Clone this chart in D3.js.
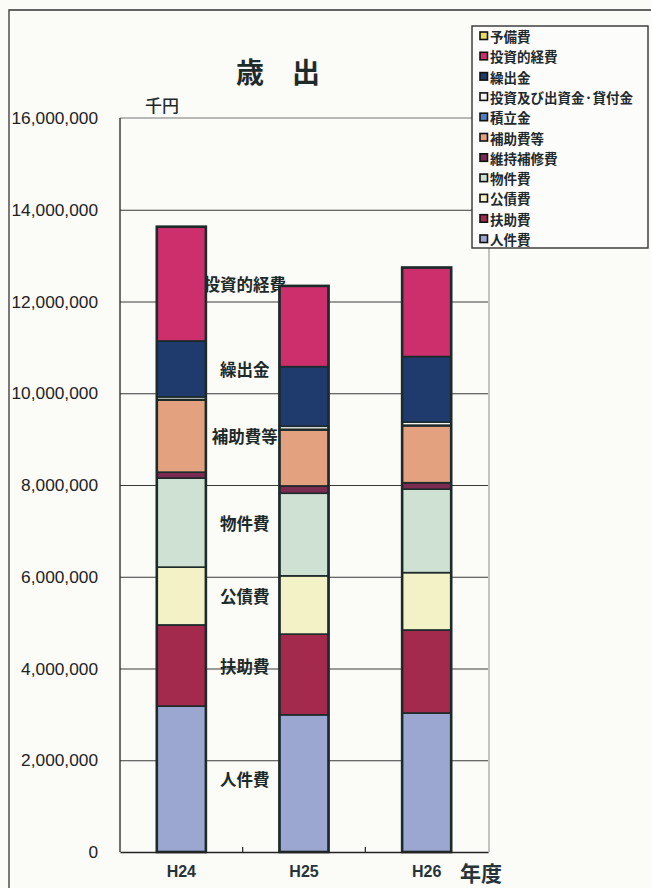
<!DOCTYPE html>
<html>
<head>
<meta charset="utf-8">
<script src="https://cdn.jsdelivr.net/npm/d3@7"></script>
<style>
  html, body { margin: 0; padding: 0; background: #fbfbf8; }
  svg { display: block; }
</style>
</head>
<body>
<svg id="chart" width="651" height="888"></svg>
<script>
// 年度
const years = ["H24", "H25", "H26"];

// 歳出の内訳（千円）、下から積み上げる順
const jinkenhi   = [3180000, 2990000, 3030000]; // 人件費
const fujohi     = [1770000, 1760000, 1810000]; // 扶助費
const kousaihi   = [1260000, 1270000, 1250000]; // 公債費
const bukkenhi   = [1940000, 1800000, 1820000]; // 物件費
const ijihoshu   = [130000, 160000, 140000];    // 維持補修費
const hojohi     = [1570000, 1220000, 1240000]; // 補助費等
const tsumitate  = [15000, 15000, 15000];       // 積立金
const toushiShu  = [55000, 65000, 65000];       // 投資及び出資金・貸付金
const kuridashi  = [1220000, 1300000, 1430000]; // 繰出金
const toushiteki = [2490000, 1760000, 1940000]; // 投資的経費
const yobihi     = [0, 0, 0];                   // 予備費

const seriesNames = ["人件費", "扶助費", "公債費", "物件費", "維持補修費", "補助費等",
  "積立金", "投資及び出資金·貸付金", "繰出金", "投資的経費", "予備費"];
const seriesValues = [jinkenhi, fujohi, kousaihi, bukkenhi, ijihoshu, hojohi,
  tsumitate, toushiShu, kuridashi, toushiteki, yobihi];
const seriesColors = ["#9ba7d0", "#a3294d", "#f3f1c6", "#cfe1d2", "#7b2b52", "#e3a17f",
  "#4d7fc0", "#f6f6f2", "#1f3a6c", "#cd2f6d", "#e6df5c"];

// 棒の横に書く項目名
const innerLabels = ["人件費", "扶助費", "公債費", "物件費", "補助費等", "繰出金", "投資的経費"];

const yTicks = [0, 2000000, 4000000, 6000000, 8000000, 10000000, 12000000, 14000000, 16000000];

const rows = years.map((y, i) => {
  const r = { year: y };
  seriesNames.forEach((n, k) => { r[n] = seriesValues[k][i]; });
  return r;
});

const svg = d3.select("#chart");
const plot = { left: 120, right: 488, top: 118, bottom: 852 };
const ink = "#1d2a2a";

// 外枠
svg.append("path")
  .attr("d", "M9,900 L9,10 L660,10")
  .attr("fill", "none").attr("stroke", "#333").attr("stroke-width", 1.3);

const x = d3.scaleBand().domain(years).range([plot.left, plot.right]).padding(0);
const barW = x.bandwidth() * 0.4;
const y = d3.scaleLinear().domain([0, 16000000]).range([plot.bottom, plot.top]);

// 目盛線
svg.append("g")
  .attr("transform", `translate(${plot.left},0)`)
  .call(d3.axisLeft(y).tickValues(yTicks.slice(1, -1)).tickSize(-(plot.right - plot.left)).tickFormat(""))
  .call(g => g.select(".domain").remove())
  .call(g => g.selectAll("line").attr("stroke", "#3a3a3a").attr("stroke-width", 1));

// プロット枠
svg.append("line").attr("x1", plot.left).attr("x2", plot.right)
  .attr("y1", y(16000000)).attr("y2", y(16000000))
  .attr("stroke", "#777").attr("stroke-width", 1.2);
svg.append("line").attr("x1", plot.right + 1).attr("x2", plot.right + 1)
  .attr("y1", plot.top).attr("y2", plot.bottom)
  .attr("stroke", "#888").attr("stroke-width", 1);
svg.append("line").attr("x1", plot.left).attr("x2", plot.left)
  .attr("y1", plot.top).attr("y2", plot.bottom)
  .attr("stroke", "#222").attr("stroke-width", 1.3);

// 縦軸ラベル
svg.append("g")
  .attr("transform", `translate(${plot.left},0)`)
  .call(d3.axisLeft(y).tickValues(yTicks).tickSize(0).tickPadding(22).tickFormat(d3.format(",")))
  .call(g => g.select(".domain").remove())
  .call(g => g.selectAll("text")
    .attr("font-family", "'Liberation Sans', Arial, sans-serif")
    .attr("font-size", 17.3).attr("fill", "#222"));

const stack = d3.stack().keys(seriesNames);
const stacked = stack(rows);

// 項目名（棒の背面に置く）
const first = years[0];
const labelX = x(first) + x.bandwidth() + 2;
innerLabels.forEach(name => {
  const s = stacked[seriesNames.indexOf(name)][0];
  svg.append("text")
    .attr("x", labelX).attr("y", (y(s[0]) + y(s[1])) / 2)
    .attr("text-anchor", "middle").attr("dominant-baseline", "central")
    .attr("font-family", "'Noto Sans CJK JP', sans-serif").attr("font-weight", 700)
    .attr("font-size", 16.5).attr("fill", ink)
    .text(name);
});

// 積み上げ棒
const layers = svg.append("g").selectAll("g")
  .data(stacked).join("g")
  .attr("fill", (d, i) => seriesColors[i]);

layers.selectAll("rect")
  .data(d => d.filter(p => p[1] > p[0]))
  .join("rect")
  .attr("x", d => x(d.data.year) + (x.bandwidth() - barW) / 2)
  .attr("y", d => y(d[1]))
  .attr("width", barW)
  .attr("height", d => y(d[0]) - y(d[1]))
  .attr("stroke", ink).attr("stroke-width", 1.6);

// 棒の外枠
svg.append("g").selectAll("rect")
  .data(rows).join("rect")
  .attr("x", d => x(d.year) + (x.bandwidth() - barW) / 2)
  .attr("y", d => y(d3.sum(seriesNames, n => d[n])))
  .attr("width", barW)
  .attr("height", d => y(0) - y(d3.sum(seriesNames, n => d[n])))
  .attr("fill", "none").attr("stroke", ink).attr("stroke-width", 2.6);

// 横軸
svg.append("g")
  .attr("transform", `translate(0,${plot.bottom})`)
  .call(d3.axisBottom(x).tickSize(0).tickPadding(14))
  .call(g => g.select(".domain").attr("stroke", "#222").attr("stroke-width", 1.5))
  .call(g => g.selectAll("text")
    .attr("font-family", "'Liberation Sans', Arial, sans-serif")
    .attr("font-size", 16).attr("font-weight", 700).attr("fill", "#26343a"));

// 区切りの小目盛
svg.append("g").selectAll("line")
  .data(years.slice(1)).join("line")
  .attr("x1", d => x(d)).attr("x2", d => x(d))
  .attr("y1", plot.bottom).attr("y2", plot.bottom - 5)
  .attr("stroke", "#222").attr("stroke-width", 1.2);

// 表題と単位
svg.append("text").attr("x", 278).attr("y", 83).attr("text-anchor", "middle")
  .attr("font-family", "'Noto Sans CJK JP', sans-serif").attr("font-weight", 700)
  .attr("font-size", 28).attr("fill", "#1f2b2b").text("歳　出");
svg.append("text").attr("x", 162).attr("y", 112).attr("text-anchor", "middle")
  .attr("font-family", "'Noto Sans CJK JP', sans-serif").attr("font-weight", 500)
  .attr("font-size", 17).attr("fill", "#1f2b2b").text("千円");
svg.append("text").attr("x", 481).attr("y", 872).attr("text-anchor", "middle")
  .attr("dominant-baseline", "central")
  .attr("font-family", "'Noto Sans CJK JP', sans-serif").attr("font-weight", 700)
  .attr("font-size", 21).attr("fill", "#26343a").text("年度");

// 凡例（上から予備費の順）
const legend = svg.append("g");
legend.append("rect").attr("x", 472).attr("y", 26).attr("width", 176).attr("height", 222)
  .attr("fill", "#fcfcfa").attr("stroke", "#333").attr("stroke-width", 1.4);
const legendItems = seriesNames.map((n, i) => ({ name: n, color: seriesColors[i] })).reverse();
const li = legend.selectAll("g.item").data(legendItems).join("g")
  .attr("class", "item")
  .attr("transform", (d, i) => `translate(480,${36 + i * 20.3})`);
li.append("rect").attr("x", 0).attr("y", -4).attr("width", 7.5).attr("height", 7.5)
  .attr("fill", d => d.color).attr("stroke", "#111").attr("stroke-width", 1.6);
li.append("text").attr("x", 10).attr("y", 0).attr("dominant-baseline", "central")
  .attr("font-family", "'Noto Sans CJK JP', sans-serif").attr("font-weight", 700)
  .attr("font-size", 13.5).attr("fill", "#1e2a2e")
  .text(d => d.name);
</script>
</body>
</html>
